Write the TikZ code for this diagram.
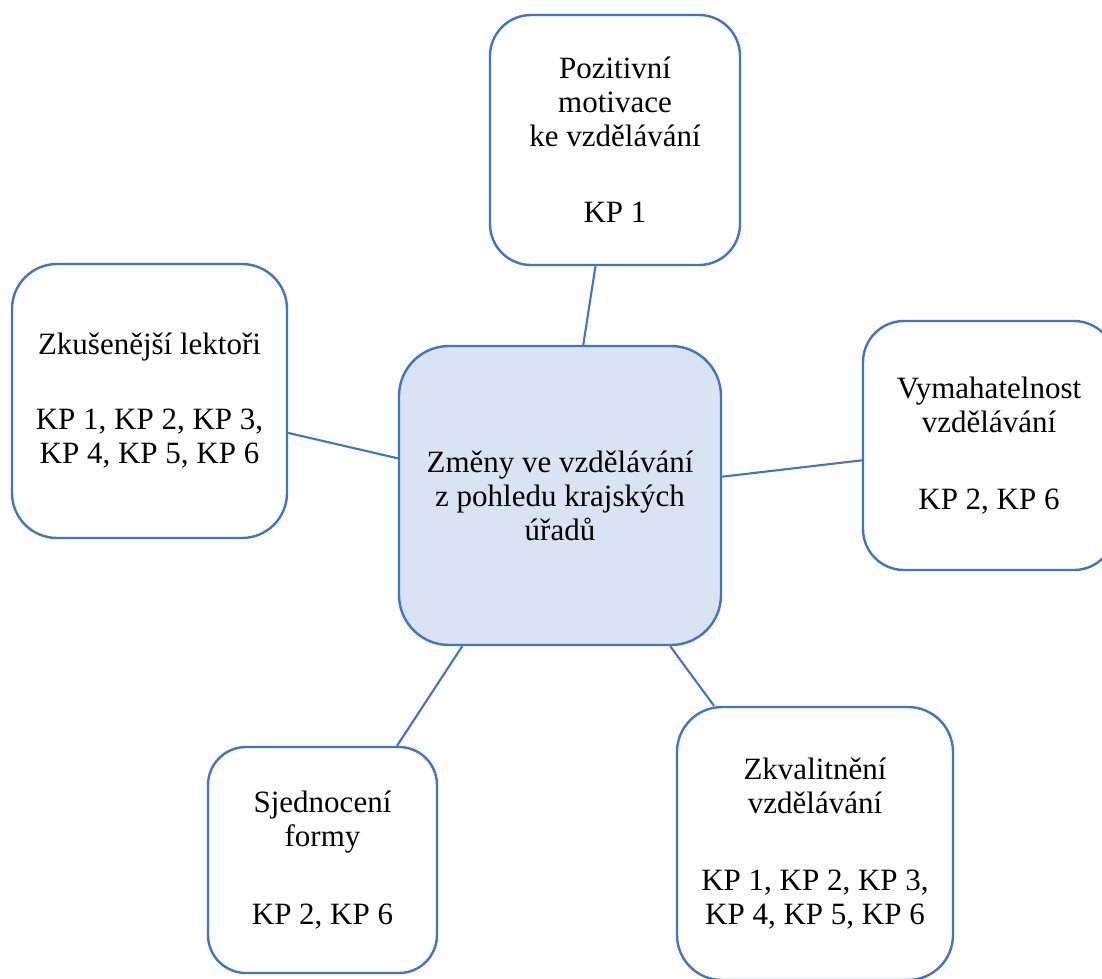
\documentclass[tikz,border=0pt]{standalone}
\usepackage{fontspec}
\setmainfont{Liberation Serif}
\definecolor{bord}{HTML}{4472C4}
\definecolor{cfill}{HTML}{DAE3F3}
\begin{document}
\begin{tikzpicture}[x=1pt,y=-1pt,
  box/.style={draw=bord, line width=2.4pt, align=center, inner sep=0pt,
    font=\fontsize{31}{34}\selectfont, text=black},
  link/.style={draw=bord, line width=2.1pt}]
\useasboundingbox (0,0) rectangle (1102,978);
\clip (0,0) rectangle (1102,978);
\node[box, fill=cfill, minimum width=322pt, minimum height=299pt, rounded corners=50pt] (c) at (560,495.5)
  {Změny ve vzdělávání\\z pohledu krajských\\úřadů};
\node[box, fill=white, minimum width=250pt, minimum height=250pt, rounded corners=41pt] (t) at (615,140)
  {Pozitivní\\motivace\\ke vzdělávání\\[42pt]KP 1};
\node[box, fill=white, minimum width=275pt, minimum height=274pt, rounded corners=45pt] (l) at (149.5,401)
  {Zkušenější lektoři\\[41pt]KP 1, KP 2, KP 3,\\KP 4, KP 5, KP 6};
\node[box, fill=white, minimum width=252pt, minimum height=249pt, rounded corners=41pt] (r) at (989,445.5)
  {Vymahatelnost\\vzdělávání\\[43pt]KP 2, KP 6};
\node[box, fill=white, minimum width=229pt, minimum height=226pt, rounded corners=38pt] (bl) at (322.5,860)
  {Sjednocení\\formy\\[44pt]KP 2, KP 6};
\node[box, fill=white, minimum width=276pt, minimum height=273pt, rounded corners=45pt] (br) at (815,843.5)
  {Zkvalitnění\\vzdělávání\\[43pt]KP 1, KP 2, KP 3,\\KP 4, KP 5, KP 6};
\draw[link] (t) -- (c);
\draw[link] (l) -- (c);
\draw[link] (r) -- (c);
\draw[link] (bl) -- (c);
\draw[link] (br) -- (c);
\end{tikzpicture}
\end{document}
